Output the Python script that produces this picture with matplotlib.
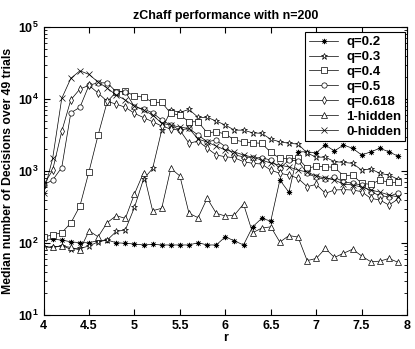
import numpy as np
import matplotlib
matplotlib.use('Agg')
import matplotlib.pyplot as plt

plt.rcParams['font.family'] = ['Liberation Sans', 'DejaVu Sans']
plt.rcParams['font.weight'] = 'bold'
plt.rcParams['mathtext.fontset'] = 'custom'
plt.rcParams['mathtext.bf'] = 'Liberation Sans:bold'
plt.rcParams['mathtext.rm'] = 'Liberation Sans:bold'

r = np.round(np.arange(4.0, 7.95, 0.1), 1)

q02 = [113, 113, 110, 104, 101, 101, 108, 110, 101, 99,
       97, 94, 96, 94, 94, 94, 94, 101, 94, 94,
       122, 107, 94, 168, 220, 202, 750, 506, 1850, 1850,
       1790, 2300, 1900, 2300, 2070, 1670, 1850, 2070, 1850, 1610]
q03 = [89, 87, 92, 82, 84, 91, 104, 110, 145, 152,
       313, 775, 1085, 3700, 7030, 6530, 7190, 5570, 5570, 4950,
       4350, 3700, 3700, 3400, 3340, 2760, 2550, 2430, 2370, 1780,
       1560, 1560, 1350, 1320, 1280, 1030, 1070, 930, 880, 767]
q04 = [121, 130, 139, 190, 327, 985, 3160, 9180, 12600, 12900,
       11000, 10660, 9000, 9000, 6320, 6000, 4840, 4840, 3400, 3510,
       3270, 2700, 2550, 2470, 2430, 1820, 1500, 1500, 1500, 1090,
       1170, 1150, 1125, 860, 880, 675, 653, 750, 697, 697]
q05 = [640, 750, 1120, 6460, 7680, 15600, 16800, 16800, 12600, 12600,
       7800, 7260, 6450, 5100, 4350, 3710, 3910, 3160, 2550, 2700,
       2180, 1670, 1580, 1530, 1530, 1420, 1090, 1420, 1390, 930,
       818, 767, 818, 710, 675, 640, 517, 454, 440, 500]
q0618 = [640, 1030, 3560, 9770, 13800, 15500, 12100, 9300, 8500, 7680,
         6330, 5530, 4840, 4220, 3830, 3700, 2430, 2610, 2080, 1670,
         1580, 1530, 1350, 1280, 1250, 1030, 930, 880, 792, 606,
         653, 490, 545, 552, 545, 517, 418, 396, 337, 408]
hidden1 = [89, 87, 91, 87, 80, 148, 122, 192, 240, 220,
           480, 950, 281, 304, 1090, 853, 259, 225, 418, 259,
           237, 245, 348, 139, 161, 168, 103, 127, 121, 57,
           61, 84, 63, 72, 82, 66, 55, 56, 61, 54]
hidden0 = [490, 1500, 10230, 19400, 24700, 22000, 17200, 14200, 11370, 9680,
           8000, 7030, 6000, 4600, 4350, 4080, 3900, 2780, 2530, 2220,
           1960, 1840, 1670, 1560, 1420, 1290, 1210, 1140, 1030, 970,
           853, 800, 750, 660, 640, 600, 545, 510, 465, 436]

series = [
    (q02, (8, 2, 0), 'q=0.2'),
    (q03, '*', 'q=0.3'),
    (q04, 's', 'q=0.4'),
    (q05, 'o', 'q=0.5'),
    (q0618, 'd', 'q=0.618'),
    (hidden1, '^', '1-hidden'),
    (hidden0, 'x', '0-hidden'),
]

fig = plt.figure(figsize=(4.15, 3.49), dpi=100)
ax = fig.add_axes([0.105, 0.0974, 0.876, 0.825])

for y, m, lab in series:
    ax.plot(r, y, color='k', linewidth=0.5, marker=m, mfc='white', mec='k',
            mew=0.5, ms=4.5 if m == '*' else 3.8, label=lab)

ax.set_yscale('log')
ax.set_xlim(4, 8)
ax.set_ylim(10, 1e5)
ax.set_xticks(np.arange(4, 8.01, 0.5))
ax.set_xticklabels(['4', '4.5', '5', '5.5', '6', '6.5', '7', '7.5', '8'])
ax.set_yticks([10, 100, 1000, 10000, 100000])
ax.set_yticklabels([r'$\mathbf{10^{%d}}$' % k for k in range(1, 6)])
ax.tick_params(which='both', direction='in', top=True, right=True, labelsize=9)
ax.tick_params(which='major', length=4)
ax.tick_params(which='minor', length=2)

ax.set_xlabel('r', fontsize=9, fontweight='bold', labelpad=0)
ax.set_ylabel('Median number of Decisions over 49 trials', fontsize=8.8, fontweight='bold', labelpad=3)
ax.set_title('zChaff performance with n=200', fontsize=9, fontweight='bold', pad=6)

leg = ax.legend(loc='upper right', bbox_to_anchor=(0.9945, 0.9826), borderaxespad=0,
                fontsize=9.5, fancybox=False, framealpha=1, edgecolor='k',
                handlelength=2.2, labelspacing=0.2, borderpad=0.3, handletextpad=0.6)
leg.get_frame().set_linewidth(0.8)

plt.savefig('out.png', dpi=100)
